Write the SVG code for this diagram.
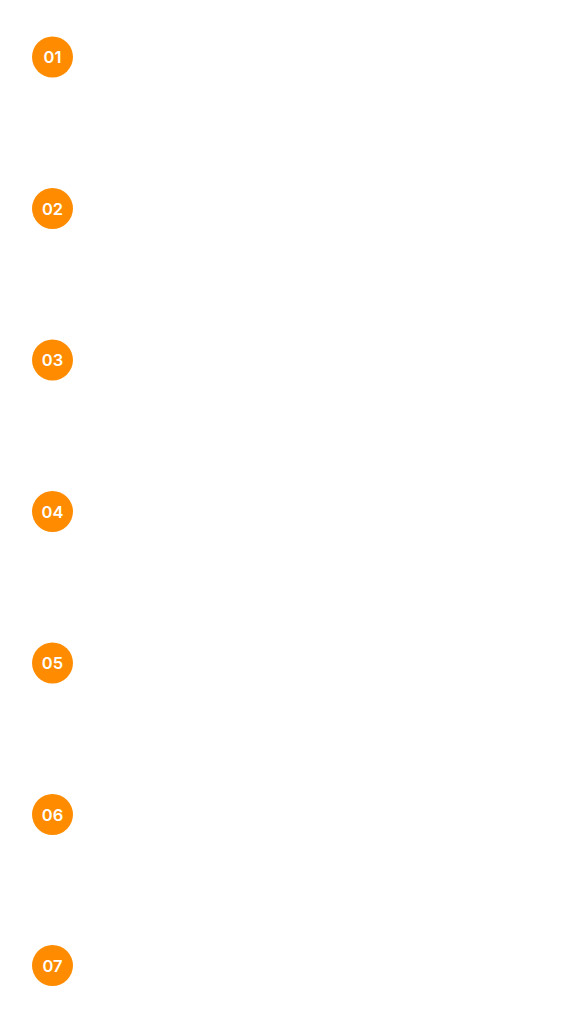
<svg xmlns="http://www.w3.org/2000/svg" width="577" height="1024" viewBox="0 0 577 1024">
<style>
.b{fill:#FF8C00}
.t{fill:#fff;font-family:Inter,"Noto Sans",sans-serif;font-size:16.5px;font-weight:600;text-anchor:middle;dominant-baseline:central}
</style>
<rect width="577" height="1024" fill="#fff"/>
<g id="connectors"></g>
<g id="n1"><circle class="b" cx="52.5" cy="57" r="20.5"/><text class="t" x="52.5" y="57">01</text></g>
<g id="n2"><circle class="b" cx="52.5" cy="208.5" r="20.5"/><text class="t" x="52.5" y="208.5">02</text></g>
<g id="n3"><circle class="b" cx="52.5" cy="360" r="20.5"/><text class="t" x="52.5" y="360">03</text></g>
<g id="n4"><circle class="b" cx="52.5" cy="511.5" r="20.5"/><text class="t" x="52.5" y="511.5">04</text></g>
<g id="n5"><circle class="b" cx="52.5" cy="663" r="20.5"/><text class="t" x="52.5" y="663">05</text></g>
<g id="n6"><circle class="b" cx="52.5" cy="814.5" r="20.5"/><text class="t" x="52.5" y="814.5">06</text></g>
<g id="n7"><circle class="b" cx="52.5" cy="965.5" r="20.5"/><text class="t" x="52.5" y="965.5">07</text></g>
</svg>
